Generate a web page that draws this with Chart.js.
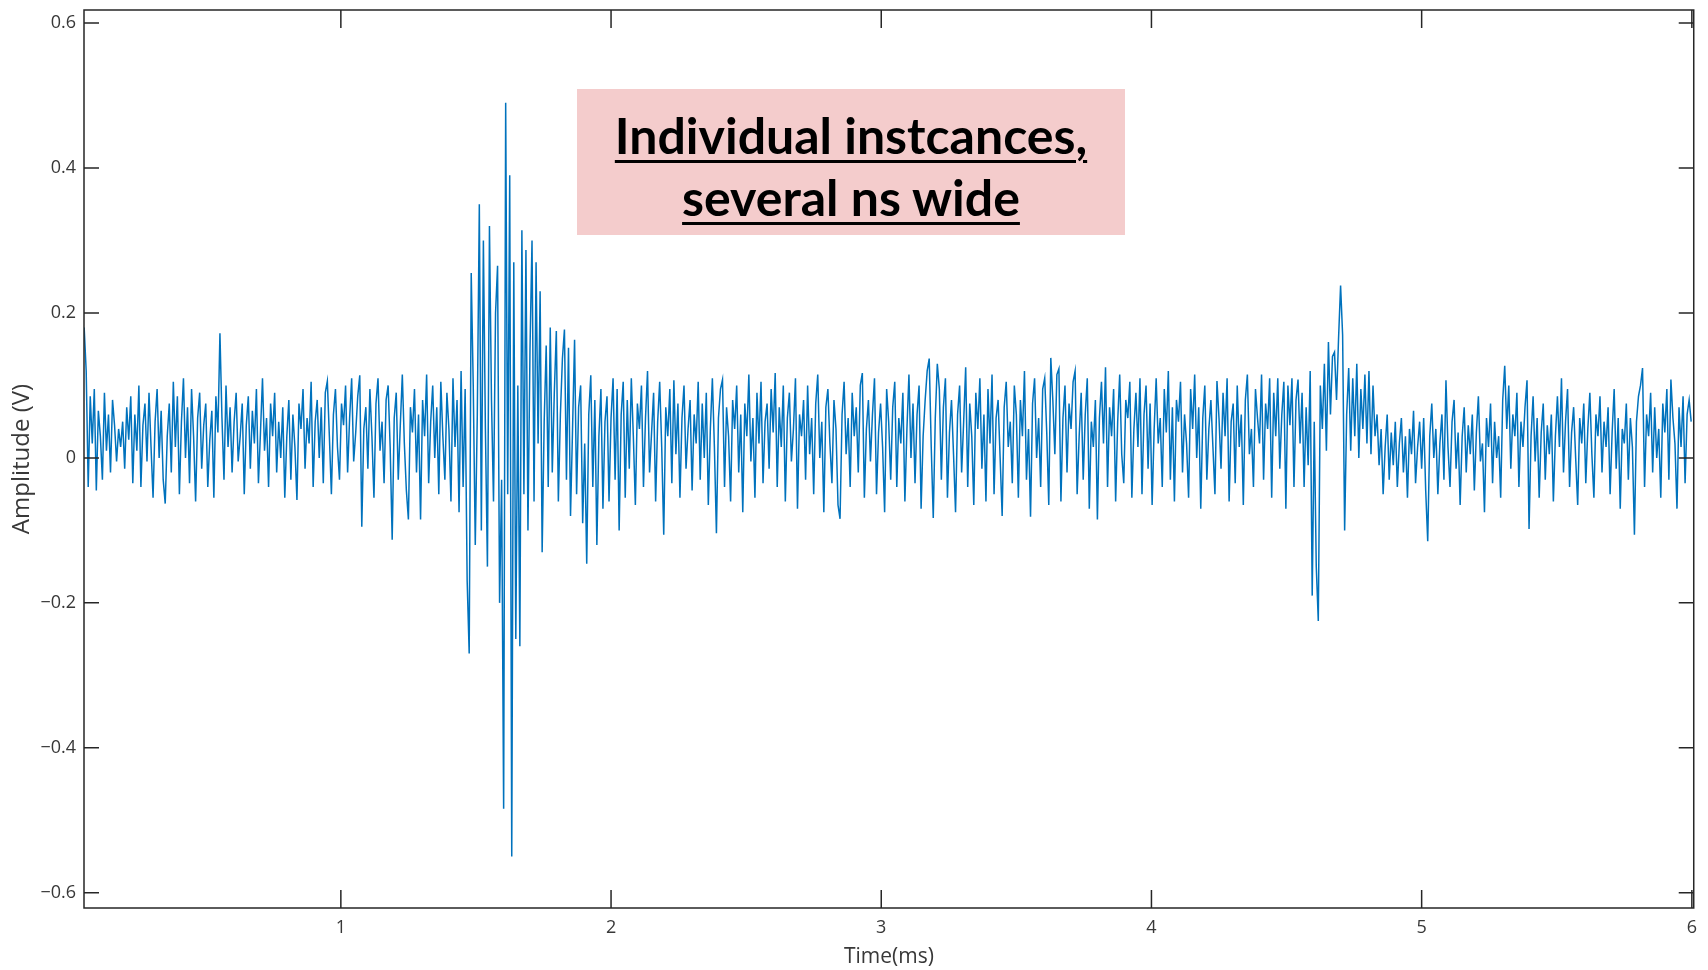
<!DOCTYPE html>
<html>
<head>
<meta charset="utf-8">
<script src="https://cdn.jsdelivr.net/npm/chart.js@4.4.1/dist/chart.umd.min.js"></script>
<style>
  html, body { margin: 0; padding: 0; background: #fff; }
  #wrap { position: relative; width: 1708px; height: 970px; }
  #note {
    position: absolute; left: 577px; top: 89px; width: 548px; height: 146px;
    box-sizing: border-box; padding-top: 15px;
    background: #f4cccc; color: #000;
    font-family: Lato, "Open Sans", sans-serif; font-weight: bold; font-size: 50px;
    line-height: 62px; text-align: center;
    text-decoration: underline; text-decoration-thickness: 3px; text-underline-offset: 6px;
  }
</style>
</head>
<body>
<div id="wrap">
  <canvas id="c" width="1708" height="970"></canvas>
  <div id="note">Individual instcances,<br>several ns wide</div>
</div>
<script>
// sampling of the trace (ms)
const startTime = 0.05;
const sampleStep = 0.0075;

// amplitude in mV, piece by piece
const quietLead = [
  180, 120, -40, 85, 20, 95, -45, 65, 30, -30, 90, 10, 60, -20, 80, 45, -5, 40, 15, 50,
  -15, 70, 25, 85, -35, 60, 10, 100, -40, 45, 75, -5, 90, 15, -55, 50, 95, 0, 65, -30,
  -63, 30, 75, -20, 105, 15, 85, -50, 50, 110, 0, 70, -35, 95, 30, -60, 55, 90, -15, 45,
  75, -40, 25, 65, -55, 85, 35, 172, 55, -30, 100, 15, 70, -20, 50, 90, -5, 30, 75, -50,
  45, 85, -15, 65, 20, 95, -35, 35, 110, 10, 55, -40, 75, 30, 90, -20, 50, 0, 70, -55,
  30, 80, -30, 60, 15, -58, 75, 40, 95, -15, 55, 20, 105, -40, 50, 80, 0, 70, -35, 90,
  106, 30, -50, 60, 95, 15, -30, 75, 45, 100, -20, 55, 110, -5, 35, 85, 114, -95, 40, 70,
  -15, 95, 30, -55, 75, 110, 10, 50, -35, 80, 100, 15, -113, 55, 90, -30, 45, 115, 20, -45,
  -85, 70, 35, 95, -20, 60, -85, 80, 30, 115, -35, 50, 100, 0, 70, -50, 105, 30, -30, 90,
  40, -60, 110, 15, 80, -75, 120, -40, 95, -170
];
const burst = [
  -270, 255, 100, -120, 60, 350, -100, 300, 40, -150, 320, 80, -60, 200, 265, -200, -30, -484, 490, -50,
  390, -550, 270, -250, 100, -260, 314, -50, 287, -100, 150, 300, -60, 270, 20, 230, -130, 50, 155, -40,
  180, -20, 90, 175, -60, 60, 137, 177, -30, 152, -80, 40, 163, -50, 70, 100, -90, 20, -146, 60,
  114, -40, 80, -120, 30, 95, -70, 50, 85, -60
];
const quietMid = [
  55, 110, -30, 95, -100, 60, 105, -55, 80, -15, 110, 30, -65, 75, 40, 100, -40, 55, 120, -20,
  35, 90, -60, 50, 105, 15, -106, 70, 30, 95, -35, 107, 5, 75, -55, 55, 100, -15, 40, 80,
  -45, 60, 20, 105, -30, 75, 0, 90, -65, 40, 110, 15, -104, 55, 95, 108, -40, 70, 30, -60,
  80, 40, 100, -20, 60, -75, 75, 30, 115, -5, 55, -55, 90, 20, 105, -35, 50, 75, -15, 95,
  35, 117, -40, 70, 15, 100, -60, 55, 90, -5, 40, 110, -70, 60, 30, 80, -30, 100, 5, 55,
  -50, 75, 115, 0, 50, -75, 70, 95, 20, -35, 80, 40, -65, -84, 60, 105, 5, 55, -40, 90,
  30, 70, -20, 100, 117, -55, 40, 80, -5, 60, 110, -50, 35, 75, 15, -75, 95, 50, -30, 70,
  105, -40, 55, 20, 90, -60, 40, 115, 0, 75, -35, 60, 100, -70, 30, 80, 120, 137, 15, -83,
  55, 130, 95, -30, 70, 110, -55, 35, 80, 5, -75, 60, 100, -20, 50, 125, -40, 75, 30, -65,
  90, 40, 110, -15, 60, -60, 95, 20, 115, -50, 55, 80, 0, -80, 70, 105, 15, 50, -35, 100,
  60, -55, 80, 30, 120, -30, 40, -81, 75, 110, 0, 55, -40, 95, 110, 35, -65, 138, 80, 5,
  115, 123, -60, 55, 100, -20, 75, 40, 105, 120, -50, 30, 90, -30, 60, 110, -70, 50, 15, 80,
  -85, 55, 105, 20, 125, -40, 70, 30, 95, -60, 50, 115, 5, -35, 80, 55, 105, -55, 40, 90,
  15, 110, -50, 60, 100, -15, 75, -65, 40, 110, 20, 55, -40, 95, 35, 120, -30, 70, -60, 80,
  50, 105, -20, 60, 20, -55, 95, 40, 115, 0, 70, -70, 55, 100, -30, 40, 80, 15, -50, 106,
  55, -15, 90, 30, 110, -60, 50, 75, -35, 100, 15, 60, -65, 80, 115, 5, 40, -40, 95, 55,
  20, 115, -30, 75, 40, 110, -55, 90, 30, 110, -15, 60, 105, -70, 100, 45, 110, -40, 80, 108
];
const secondEvent = [
  20, 90, -40, 70, -10, 120, -190, 50, -150, -225, 100, 40, 130, 10, 160, 60, 140, 146, 80, 165,
  238, 170, -100, 60, 124, 10, 110, 30, 130, 0, 95, 40, 115, 20, 120, 5, 100, 30, 60, -10
];
const quietTail = [
  40, -50, 15, 60, -30, 35, -10, 50, -40, 20, 55, -20, 30, -55, 40, 5, 65, -35, 15, 50,
  -15, 55, -45, -115, 30, 75, 0, 40, -50, 20, 60, -30, 107, 15, -40, 50, 80, -15, 35, -65,
  30, 70, -20, 45, 5, 60, -45, 35, 85, -5, 20, -75, 55, 15, 75, -35, 50, 0, 30, -55,
  80, 127, 40, 100, -15, 60, 30, 90, -40, 50, 15, 70, 107, -98, 30, 85, -5, 55, -55, 35,
  75, -30, 45, 5, 60, -60, 30, 85, 15, 110, -20, 50, 95, -40, 35, 70, 0, -65, 55, 20,
  75, -35, 40, 90, 5, -55, 60, 30, 85, -20, 50, 15, 70, -50, 35, 95, -15, 55, -70, 40,
  20, 75, -30, 55, 15, -106, 50, 85, 100, 124, -40, 60, 30, 90, -20, 70, 0, 40, -55, 75,
  35, 95, -30, 108, 55, 20, -70, 70, 15, 85, -35, 60, 80, 50
];

const xTicks = [1, 2, 3, 4, 5, 6];
const yTicks = [-0.6, -0.4, -0.2, 0, 0.2, 0.4, 0.6];

const amplitudeMv = [].concat(quietLead, burst, quietMid, secondEvent, quietTail);
const points = amplitudeMv.map((v, i) => ({ x: startTime + i * sampleStep, y: v / 1000 }));

// matlab style box with ticks pointing inwards, on all four sides
const axesBox = {
  id: 'axesBox',
  afterDatasetsDraw(chart) {
    const { ctx, chartArea: a, scales: { x, y } } = chart;
    ctx.save();
    ctx.strokeStyle = '#262626';
    ctx.lineWidth = 1.5;
    ctx.beginPath();
    xTicks.forEach(v => {
      const px = x.getPixelForValue(v);
      ctx.moveTo(px, a.bottom); ctx.lineTo(px, a.bottom - 18);
      ctx.moveTo(px, a.top); ctx.lineTo(px, a.top + 18);
    });
    yTicks.forEach(v => {
      const py = y.getPixelForValue(v);
      ctx.moveTo(a.left, py); ctx.lineTo(a.left + 15, py);
      ctx.moveTo(a.right, py); ctx.lineTo(a.right - 15, py);
    });
    ctx.stroke();
    ctx.strokeRect(a.left, a.top, a.right - a.left, a.bottom - a.top);
    ctx.restore();
  }
};

const tickFont = { family: 'Open Sans', size: 18, lineHeight: 1 };

new Chart(document.getElementById('c'), {
  type: 'line',
  data: {
    datasets: [{
      data: points,
      borderColor: '#0072bd',
      borderWidth: 1.5,
      pointRadius: 0,
      fill: false,
      tension: 0
    }]
  },
  options: {
    responsive: false,
    animation: false,
    parsing: false,
    layout: { padding: { top: 10, right: 7, left: 0, bottom: 0 } },
    plugins: { legend: { display: false }, tooltip: { enabled: false } },
    scales: {
      x: {
        type: 'linear',
        min: 0.0494,
        max: 6.007,
        afterBuildTicks: s => { s.ticks = xTicks.map(v => ({ value: v })); },
        afterFit: s => { s.height = 62; },
        grid: { display: false, drawTicks: false },
        border: { display: false },
        ticks: { padding: 11, color: '#383838', font: tickFont, autoSkip: false, maxRotation: 0, callback: v => String(v) },
        title: { display: true, text: 'Time(ms)', color: '#383838', font: { family: 'Open Sans', size: 21 }, padding: { top: 0, bottom: 0 } }
      },
      y: {
        min: -0.621,
        max: 0.618,
        afterBuildTicks: s => { s.ticks = yTicks.map(v => ({ value: v })); },
        afterFit: s => { s.width = 84; s.paddingTop = 0; s.paddingBottom = 0; },
        grid: { display: false, drawTicks: false },
        border: { display: false },
        ticks: {
          padding: 8, color: '#383838', font: tickFont, autoSkip: false,
          callback: v => v === 0 ? '0' : (v < 0 ? '\u2212' : '') + Math.abs(v).toFixed(1)
        },
        title: { display: true, text: 'Amplitude (V)', color: '#383838', font: { family: 'Open Sans', size: 24 }, padding: { top: 8, bottom: 0 } }
      }
    }
  },
  plugins: [axesBox]
});
</script>
</body>
</html>
